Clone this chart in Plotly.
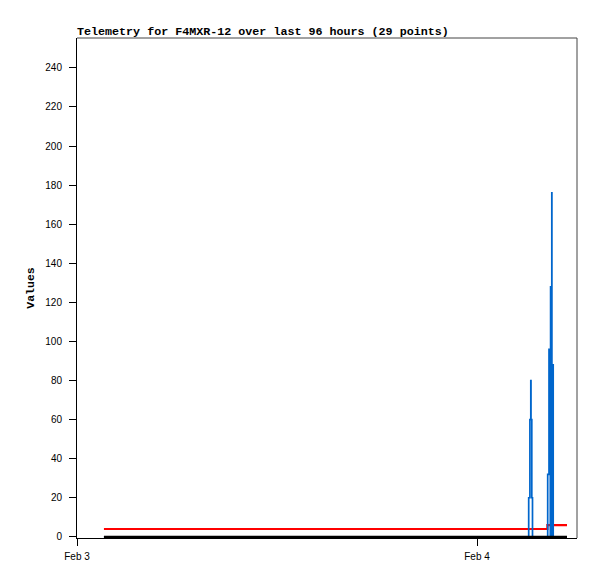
import plotly.graph_objects as go

times = [
    "2024-02-03 01:37", "2024-02-03 03:55", "2024-02-03 06:20", "2024-02-03 08:45",
    "2024-02-03 10:10", "2024-02-03 12:30", "2024-02-03 14:50", "2024-02-03 17:05",
    "2024-02-03 19:25", "2024-02-03 21:40", "2024-02-04 00:05", "2024-02-04 01:50",
    "2024-02-04 03:05:02", "2024-02-04 03:06:07", "2024-02-04 03:10:26", "2024-02-04 03:13:41",
    "2024-02-04 03:14:24", "2024-02-04 03:17:17", "2024-02-04 03:19:48",
    "2024-02-04 04:13:26", "2024-02-04 04:14:31", "2024-02-04 04:19:12", "2024-02-04 04:23:53",
    "2024-02-04 04:24:58", "2024-02-04 04:29:17", "2024-02-04 04:29:38", "2024-02-04 04:32:10",
    "2024-02-04 04:34:19",
    "2024-02-04 05:24",
]
blue_values = [0] * 12 + [0, 20, 60, 80, 60, 20, 0] + [0, 32, 96, 0, 128, 176, 0, 88, 0] + [0]
red_values = [4] * 19 + [6] * 10
black_values = [0] * 29

y_ticks = list(range(0, 241, 20))
x_tickvals = ["2024-02-03 00:00", "2024-02-04 00:00"]
x_ticktext = ["Feb 3", "Feb 4"]

fig = go.Figure()
fig.add_trace(go.Scatter(x=times, y=red_values, mode="lines",
                         line=dict(color="#FF0000", width=2.2, shape="hv"), showlegend=False))
fig.add_trace(go.Scatter(x=times, y=blue_values, mode="lines",
                         line=dict(color="#0066CC", width=1.7, shape="hv"), showlegend=False))
fig.add_trace(go.Scatter(x=times, y=black_values, mode="lines",
                         line=dict(color="#000000", width=2.2, shape="hv"), showlegend=False))

# page body has an 8px default margin, so the figure is drawn 8px right and down
fig.update_layout(
    width=589, height=571,
    margin=dict(l=69, r=20, t=30, b=41),
    paper_bgcolor="white", plot_bgcolor="white",
    title=dict(text="<b>Telemetry for F4MXR-12 over last 96 hours (29 points)</b>",
               font=dict(family="Liberation Mono", size=11.7, color="black"),
               x=69 / 589, xanchor="left", xref="container",
               y=1 - 23 / 571, yanchor="middle", yref="container"),
    font=dict(family="Liberation Sans", size=10, color="black"),
    shapes=[
        dict(type="line", xref="paper", yref="paper", x0=0, x1=1, y0=1, y1=1,
             line=dict(color="#444444", width=1)),
        dict(type="line", xref="paper", yref="paper", x0=1, x1=1, y0=0, y1=1,
             line=dict(color="#444444", width=1)),
    ],
)
fig.update_xaxes(
    type="date", range=["2024-02-03 00:00", "2024-02-04 06:00"],
    tickvals=x_tickvals, ticktext=x_ticktext,
    ticks="outside", ticklen=7, tickcolor="black", tickwidth=1, ticklabelstandoff=2,
    showline=True, linecolor="black", linewidth=1, showgrid=False, zeroline=False,
    tickfont=dict(family="Liberation Sans", size=10, color="black"),
)
fig.update_yaxes(
    range=[-0.6, 255.3], tickvals=y_ticks,
    ticks="outside", ticklen=7, tickcolor="black", tickwidth=1, ticklabelstandoff=5,
    showline=True, linecolor="black", linewidth=1, showgrid=False, zeroline=False,
    tickfont=dict(family="Liberation Sans", size=10, color="black"),
    title=dict(text="<b>Values</b>", font=dict(family="Liberation Mono", size=11.5, color="black"),
               standoff=8),
)

fig.write_html("out.html")
